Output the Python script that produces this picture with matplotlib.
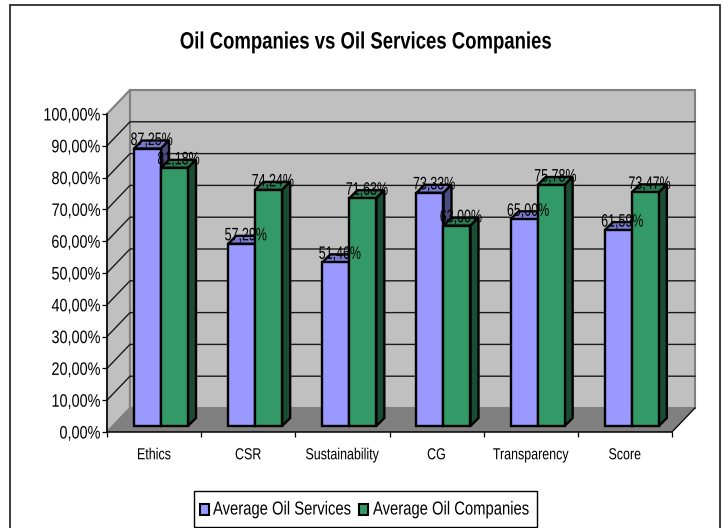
"""Oil Companies vs Oil Services Companies: pseudo-3D clustered bars."""

import matplotlib
matplotlib.use('Agg')
import matplotlib.pyplot as plt
from matplotlib.patches import Polygon, Rectangle
from matplotlib.patheffects import AbstractPathEffect
from matplotlib.transforms import Affine2D

# ── Data ──────────────────────────────────────────────
categories = ['Ethics', 'CSR', 'Sustainability', 'CG', 'Transparency', 'Score']
oil_services = [87.25, 57.29, 51.46, 73.33, 65.00, 61.59]
oil_companies = [81.18, 74.24, 71.63, 63.00, 75.78, 73.47]
y_ticks = [0, 10, 20, 30, 40, 50, 60, 70, 80, 90, 100]
series_names = ['Average Oil Services', 'Average Oil Companies']

# ── Style ─────────────────────────────────────────────
W, H = 723, 528
plt.rcParams['font.family'] = ['Liberation Sans', 'DejaVu Sans']

SERVICES = ('#9999ff', '#7a7acc', '#4c4c80')
COMPANIES = ('#339966', '#297a52', '#1a4d33')

# front plane in pixels
LEFT, RIGHT, BOTTOM, TOP = 107, 672, 432, 114


class Narrow(AbstractPathEffect):
    """Squeeze text sideways, no narrow font is installed."""

    def __init__(self, sx=0.8, anchor='center'):
        super().__init__()
        self.sx = sx
        self.anchor = anchor

    def draw_path(self, renderer, gc, tpath, affine, rgbFace=None):
        xs = tpath.vertices[:, 0]
        ref = {'left': xs.min(), 'center': (xs.min() + xs.max()) / 2, 'right': xs.max()}[self.anchor]
        squeeze = Affine2D().translate(-ref, 0).scale(self.sx, 1).translate(ref, 0)
        renderer.draw_path(gc, tpath, squeeze + affine, rgbFace)


def pct(v):
    return f'{v:.2f}%'.replace('.', ',')


fig = plt.figure(figsize=(W / 100, H / 100), dpi=100, facecolor='white')
ax = fig.add_axes([LEFT / W, 1 - BOTTOM / H, (RIGHT - LEFT) / W, (BOTTOM - TOP) / H])
ax.set_xlim(0, len(categories))
ax.set_ylim(0, 100)
ax.patch.set_visible(False)
for side in ['top', 'right']:
    ax.spines[side].set_visible(False)
for side in ['left', 'bottom']:
    ax.spines[side].set_linewidth(1.1)
    ax.spines[side].set_zorder(2)

# depth of the box and of the bars, in data units
px_x = len(categories) / (RIGHT - LEFT)
px_y = 100 / (BOTTOM - TOP)
DX, DY = 23 * px_x, 24 * px_y
BAR_W = 27 * px_x
BAR_DX, BAR_DY = 8 * px_x, 8 * px_y
BASE_X, BASE_Y = 27 * px_x, 6 * px_y

# ── Walls and floor ───────────────────────────────────
ax.add_patch(Polygon([(0, 0), (DX, DY), (DX, 100 + DY), (0, 100)], fc='#c0c0c0',
                     ec='#808080', lw=1.5, clip_on=False, zorder=1))
ax.add_patch(Rectangle((DX, DY), len(categories), 100, fc='#c0c0c0',
                       ec='#808080', lw=1.5, clip_on=False, zorder=1))
ax.add_patch(Polygon([(0, 0), (len(categories), 0), (len(categories) + DX, DY), (DX, DY)],
                     fc='#808080', ec='none', clip_on=False, zorder=1.5))
ax.plot([len(categories), len(categories) + DX], [0, DY], color='black', lw=0.9,
        clip_on=False, zorder=1.6)

for v in y_ticks[1:-1]:
    ax.plot([0, DX, len(categories) + DX], [v, v + DY, v + DY], color='#1a1a1a', lw=1.0,
            clip_on=False, zorder=1.2)


def bar_3d(x0, v, colors, z):
    # front face through bar(), then top and side faces
    ax.bar(x0, v, BAR_W, bottom=BASE_Y, align='edge', color=colors[0], edgecolor='black',
           linewidth=1.7, clip_on=False, zorder=z + 0.2)
    top = v + BASE_Y
    ax.add_patch(Polygon([(x0, top), (x0 + BAR_DX, top + BAR_DY),
                          (x0 + BAR_W + BAR_DX, top + BAR_DY), (x0 + BAR_W, top)],
                         fc=colors[1], ec='black', lw=1.7, clip_on=False, zorder=z))
    ax.add_patch(Polygon([(x0 + BAR_W, BASE_Y), (x0 + BAR_W + BAR_DX, BASE_Y + BAR_DY),
                          (x0 + BAR_W + BAR_DX, top + BAR_DY), (x0 + BAR_W, top)],
                         fc=colors[2], ec='black', lw=1.7, clip_on=False, zorder=z))
    return top + BAR_DY


# ── Bars and labels ───────────────────────────────────
for i, (a, b) in enumerate(zip(oil_services, oil_companies)):
    x_a = i + BASE_X
    x_b = x_a + BAR_W
    top_a = bar_3d(x_a, a, SERVICES, 3 + i)
    top_b = bar_3d(x_b, b, COMPANIES, 3.5 + i)
    for x, top, v in [(x_a, top_a, a), (x_b, top_b, b)]:
        ax.text(x + (BAR_W + BAR_DX) / 2, top, pct(v), ha='center', va='center',
                fontsize=13, zorder=20, clip_on=False,
                path_effects=[Narrow(0.69)])

# ── Axes text ─────────────────────────────────────────
ax.set_xticks(range(len(categories) + 1))
ax.set_xticklabels([])
ax.set_xticks([i + 0.5 for i in range(len(categories))], minor=True)
ax.set_xticklabels(categories, minor=True, fontsize=11.5)
for label in ax.get_xticklabels(minor=True):
    label.set_path_effects([Narrow(0.78)])
ax.tick_params(axis='x', which='minor', length=0, pad=11)
ax.tick_params(axis='x', which='major', length=3.6, width=0.9)
ax.set_yticks(y_ticks)
ax.set_yticklabels([pct(v) for v in y_ticks], fontsize=13)
for label in ax.get_yticklabels():
    label.set_path_effects([Narrow(0.8, 'right')])
ax.tick_params(axis='y', length=3.6, width=0.9, pad=1)

fig.text(366 / W, 1 - 42 / H, 'Oil Companies vs Oil Services Companies', ha='center',
         va='center', fontsize=17, fontweight='bold', path_effects=[Narrow(0.785)])

# ── Legend ────────────────────────────────────────────
# drawn by hand: a real legend would size its box for the unsqueezed text
fig.add_artist(Rectangle((194 / W, 1 - 527 / H), 343 / W, 36 / H, transform=fig.transFigure,
                         fc='white', ec='black', lw=1.0))
for name, color, box_x, text_x in zip(series_names, [SERVICES[0], COMPANIES[0]], [200, 359], [213, 373]):
    fig.add_artist(Rectangle((box_x / W, 1 - 515 / H), 9 / W, 11 / H, transform=fig.transFigure,
                             fc=color, ec='black', lw=1.5))
    fig.text(text_x / W, 1 - 510 / H, name, ha='left', va='center', fontsize=13.5,
             path_effects=[Narrow(0.79, 'left')])

# ── Outer frame ───────────────────────────────────────
fig.add_artist(Rectangle((10 / W, -0.02), 710 / W, 1.01, transform=fig.transFigure,
                         fill=False, ec='#1a1a1a', lw=1.2))

fig.savefig('out.png', dpi=100)
